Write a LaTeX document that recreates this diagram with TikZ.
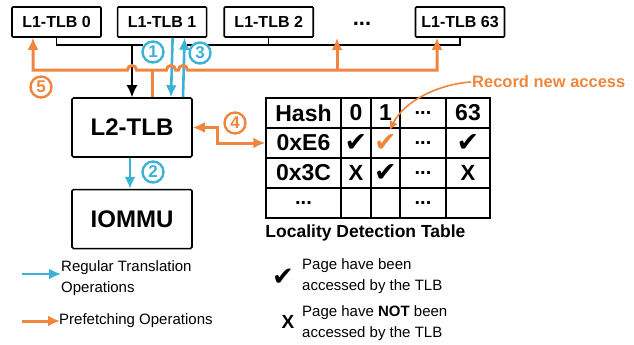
\documentclass[tikz,border=0pt]{standalone}
\usepackage{fontspec}
\setmainfont{Liberation Sans}
\newfontfamily\symfont{DejaVu Sans}
\usetikzlibrary{calc,arrows.meta,positioning}

\definecolor{regblue}{RGB}{60,178,214}
\definecolor{preforange}{RGB}{240,134,62}

\newcommand{\fsz}[1]{\fontsize{#1}{#1}\selectfont}

\begin{document}
\begin{tikzpicture}
  [>={Latex[length=12pt,width=11pt]}, x=1pt, y=-1pt]

% fix the canvas
\useasboundingbox (0,0) rectangle (634,345);

% define styles
\tikzstyle{l1tlb} = [draw, line width=1.6pt, rounded corners=1pt, minimum width=89, minimum height=30, inner sep=0pt, font=\fsz{16}\bfseries];
\tikzstyle{tlbbox} = [draw, line width=1.6pt, rounded corners=1.5pt, minimum width=120, minimum height=59, inner sep=0pt, font=\fsz{24}\bfseries];
\tikzstyle{cell} = [draw, line width=1.5pt, minimum height=30, inner sep=0pt, font=\fsz{23}\bfseries];
\tikzstyle{bus} = [line width=1.4pt];
\tikzstyle{reg} = [draw=regblue, line width=2.6pt, ->];
\tikzstyle{pref} = [draw=preforange, line width=3pt];
\tikzstyle{stepnum} = [circle, draw, fill=white, line width=2.4pt, minimum size=21, inner sep=0pt, font=\fsz{17}\bfseries];
\tikzstyle{legend} = [anchor=west, align=left, inner sep=0pt, font=\fontsize{15}{21}\selectfont];

% define new commands
\newcommand{\stepCirc}[4]{
  \node[stepnum, draw=#3, text=#3] (#1) at (#2) {#4};
}

\newcommand{\ldtRow}[6]{
  \node[cell, minimum width=75] (c#10) at (303.5, 113+30*#1) {#2};
  \node[cell, minimum width=30] (c#11) at (356, 113+30*#1) {#3};
  \node[cell, minimum width=29] (c#12) at (385.5, 113+30*#1) {#4};
  \node[cell, minimum width=46] (c#13) at (423, 113+30*#1) {#5};
  \node[cell, minimum width=44] (c#14) at (468, 113+30*#1) {#6};
}

\newcommand{\ldtCheck}{{\symfont\fsz{27}✔}}
\newcommand{\ldtCross}{{\fsz{22}X}}
\newcommand{\ldtDots}{{\fsz{20}...}}

% draw L1 TLBs
\node[l1tlb] (l1tlb0) at (56.5,22) {L1-TLB 0};
\node[l1tlb, right=15pt of l1tlb0] (l1tlb1) {L1-TLB 1};
\node[l1tlb, right=16pt of l1tlb1] (l1tlb2) {L1-TLB 2};
\node[font=\fsz{22}\bfseries] (l1dots) at (362,24) {...};
\node[l1tlb] (l1tlb63) at (460,22) {L1-TLB 63};

% draw L2 TLB and IOMMU
\node[tlbbox] (l2tlb) at (132,127.5) {L2-TLB};
\node[tlbbox, below=31pt of l2tlb] (iommu) {IOMMU};

% shared bus under the L1 TLBs
\coordinate (busy) at (0,45);
\coordinate (busgapL) at (143,45);
\coordinate (busgapR) at (187,45);
\draw[bus] (l1tlb0.south) |- (busgapL);
\draw[bus] (busgapR) -| (l1tlb63.south);
\draw[bus] (l1tlb2.south) -- (l1tlb2.south |- busy);
\draw[bus, ->] (l2tlb.north |- busy) -- (l2tlb.north);

% regular translation: 1 miss, 2 walk, 3 fill
\draw[reg] ([xshift=10.5pt]l1tlb1.south) -- ([xshift=39pt]l2tlb.north);
\draw[reg] ([xshift=51pt]l2tlb.north) -- ([xshift=22.5pt]l1tlb1.south);
\draw[reg] ([xshift=-2pt]l2tlb.south) -- ([xshift=-2pt]iommu.north);

% prefetching: 5 push to the L1 TLBs, hopping over the vertical lines
\draw[pref] ([xshift=20pt]l2tlb.north) -- ++(0,-28);
\draw[pref, <->] ([xshift=-23.5pt]l1tlb0.south) -- (33,70)
  -- (127.5,70) arc[start angle=180, end angle=0, radius=4.5pt]
  -- (166.5,70) arc[start angle=180, end angle=0, radius=4.5pt]
  -- (178.5,70) arc[start angle=180, end angle=0, radius=4.5pt]
  -- (437,70) -- ([xshift=-23pt]l1tlb63.south);
\coordinate (fork) at (337,70);
\coordinate (gaptip) at (337,38);
\draw[pref, ->] (fork) -- (gaptip);

% locality detection table
\ldtRow{0}{Hash}{0}{1}{\ldtDots}{63}
\ldtRow{1}{0xE6}{\ldtCheck}{\textcolor{preforange}{\ldtCheck}}{\ldtDots}{\ldtCheck}
\ldtRow{2}{0x3C}{\ldtCross}{\ldtCheck}{\ldtDots}{\ldtCross}
\ldtRow{3}{\ldtDots}{}{}{\ldtDots}{}
\node[anchor=north west, inner sep=0pt, font=\fsz{17.5}\bfseries] (ldtname) at ([yshift=-6pt]c30.south west) {Locality Detection Table};

% 4 lookup between L2 TLB and table
\draw[pref, <->] (l2tlb.east) -- ++(25,0) |- (c10.west);

% record new access
\node[anchor=west, inner sep=1pt, text=preforange, font=\fsz{16.5}\bfseries] (rec) at (471,82) {Record new access};
\draw[preforange, line width=1.6pt, -{Latex[length=9pt,width=9pt]}] (rec.west) .. controls (440,84) and (405,100) .. ([xshift=4pt,yshift=-3pt]c12.north);

% step numbers
\stepCirc{n1}{153,52}{regblue}{1}
\stepCirc{n2}{153,172}{regblue}{2}
\stepCirc{n3}{200,53}{regblue}{3}
\stepCirc{n4}{235,123}{preforange}{4}
\stepCirc{n5}{41,87}{preforange}{5}

% legend
\coordinate (regA) at (22,274);
\coordinate (regB) at (61,274);
\draw[reg] (regA) -- (regB);
\node[legend] (regtext) at (61,278) {Regular Translation\\Operations};

\coordinate (prefA) at (22,321);
\coordinate (prefB) at (60,321);
\draw[pref, ->] (prefA) -- (prefB);
\node[legend] (preftext) at (59,321) {Prefetching Operations};

\node[font=\symfont\fsz{26}] (ckey) at (283,277) {✔};
\node[legend] (cktext) at (302,276) {Page have been\\accessed by the TLB};
\node[font=\fsz{19}\bfseries] (xkey) at (288,322) {X};
\node[legend] (xtext) at (302,323) {Page have \textbf{NOT} been\\accessed by the TLB};

\end{tikzpicture}
\end{document}
